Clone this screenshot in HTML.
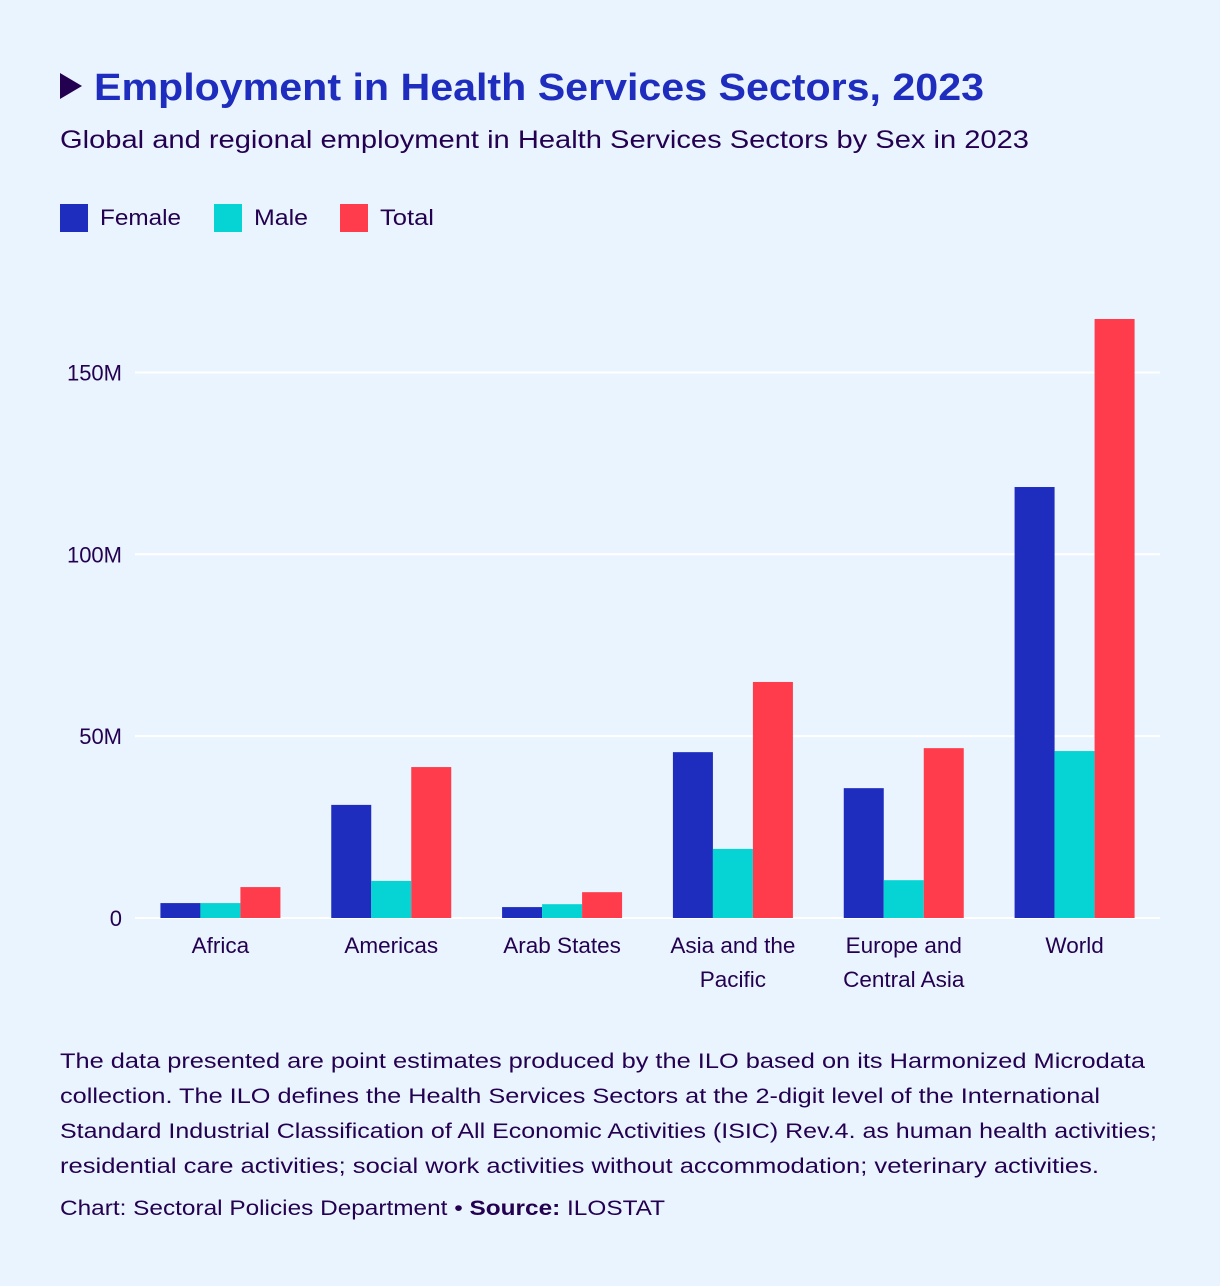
<!DOCTYPE html>
<html><head><meta charset="utf-8"><style>
html,body{margin:0;padding:0;background:#eaf4fe;}
body{width:1220px;height:1286px;position:relative;font-family:"Liberation Sans",sans-serif;color:#230050;overflow:hidden;}
.abs{position:absolute;}
</style></head><body>
<svg class="abs" style="left:0;top:0" width="1220" height="1286" font-family="Liberation Sans, sans-serif" fill="#230050">
  <polygon points="60,73 82,86 60,99" fill="#230050"/>
  <text x="94" y="100" font-size="38" font-weight="bold" fill="#1e2dbe" textLength="890" lengthAdjust="spacingAndGlyphs">Employment in Health Services Sectors, 2023</text>
  <text x="60" y="148" font-size="25" textLength="969" lengthAdjust="spacingAndGlyphs">Global and regional employment in Health Services Sectors by Sex in 2023</text>
  <g font-size="22">
    <g><rect x="60" y="204" width="28" height="28" fill="#1e2dbe"/><text x="100" y="225" textLength="81" lengthAdjust="spacingAndGlyphs">Female</text></g>
    <g><rect x="214" y="204" width="28" height="28" fill="#06d4d4"/><text x="254" y="225" textLength="54" lengthAdjust="spacingAndGlyphs">Male</text></g>
    <g><rect x="340" y="204" width="28" height="28" fill="#fe3c4c"/><text x="380" y="225" textLength="54" lengthAdjust="spacingAndGlyphs">Total</text></g>
  </g>
  <g font-size="21">
    <text x="60" y="1068" textLength="1085" lengthAdjust="spacingAndGlyphs">The data presented are point estimates produced by the ILO based on its Harmonized Microdata</text>
    <text x="60" y="1103" textLength="1040" lengthAdjust="spacingAndGlyphs">collection. The ILO defines the Health Services Sectors at the 2-digit level of the International</text>
    <text x="60" y="1138" textLength="1097" lengthAdjust="spacingAndGlyphs">Standard Industrial Classification of All Economic Activities (ISIC) Rev.4. as human health activities;</text>
    <text x="60" y="1173" textLength="1039" lengthAdjust="spacingAndGlyphs">residential care activities; social work activities without accommodation; veterinary activities.</text>
  </g>
  <text x="60" y="1215" font-size="21" textLength="605" lengthAdjust="spacingAndGlyphs">Chart: Sectoral Policies Department • <tspan font-weight="bold">Source:</tspan> ILOSTAT</text>
</svg>
<svg id="chart" class="abs" style="left:0;top:0" width="1220" height="1010"></svg>
<script>
const categories=["Africa","Americas","Arab States","Asia and the|Pacific","Europe and|Central Asia","World"];
const femaleValues=[4.1,31.1,3.0,45.6,35.7,118.5];
const maleValues=[4.1,10.2,3.8,19.0,10.4,45.9];
const totalValues=[8.5,41.5,7.1,64.9,46.7,164.7];
const tickValues=[0,50,100,150];
const tickLabels=["0","50M","100M","150M"];
const NS="http://www.w3.org/2000/svg";
const svg=document.getElementById('chart');
const x0=135,x1=1160,y0=918,pxPerM=3.637;
const groupW=(x1-x0)/categories.length,barW=40;
function yScale(v){return y0-v*pxPerM;}
function xCenter(i){return x0+groupW*(i+0.5);}
function mk(tag,attrs){const e=document.createElementNS(NS,tag);for(const k in attrs)e.setAttribute(k,attrs[k]);svg.appendChild(e);return e;}
tickValues.forEach((v,i)=>{
  const l=mk('line',{x1:x0,x2:x1,y1:yScale(v),y2:yScale(v),stroke:'#ffffff','stroke-width':2});
  
  
  const t=mk('text',{x:122,y:yScale(v)+8,'text-anchor':'end','font-size':22,fill:'#230050','font-family':'Liberation Sans, sans-serif'});
  t.textContent=tickLabels[i];
  
  
});
const series=[[femaleValues,'#1e2dbe','female'],[maleValues,'#06d4d4','male'],[totalValues,'#fe3c4c','total']];
categories.forEach((c,i)=>{
  series.forEach((s,j)=>{
    const v=s[0][i];
    const r=mk('rect',{x:xCenter(i)-60+j*barW,y:yScale(v),width:barW,height:v*pxPerM,fill:s[1]});
    
    
  });
  const parts=c.split('|');
  parts.forEach((p,k)=>{
    const t=mk('text',{x:xCenter(i),y:953+k*34,'text-anchor':'middle','font-size':22.5,fill:'#230050','font-family':'Liberation Sans, sans-serif'});
    t.textContent=p;
    
    
  });
});
</script>
</body></html>
